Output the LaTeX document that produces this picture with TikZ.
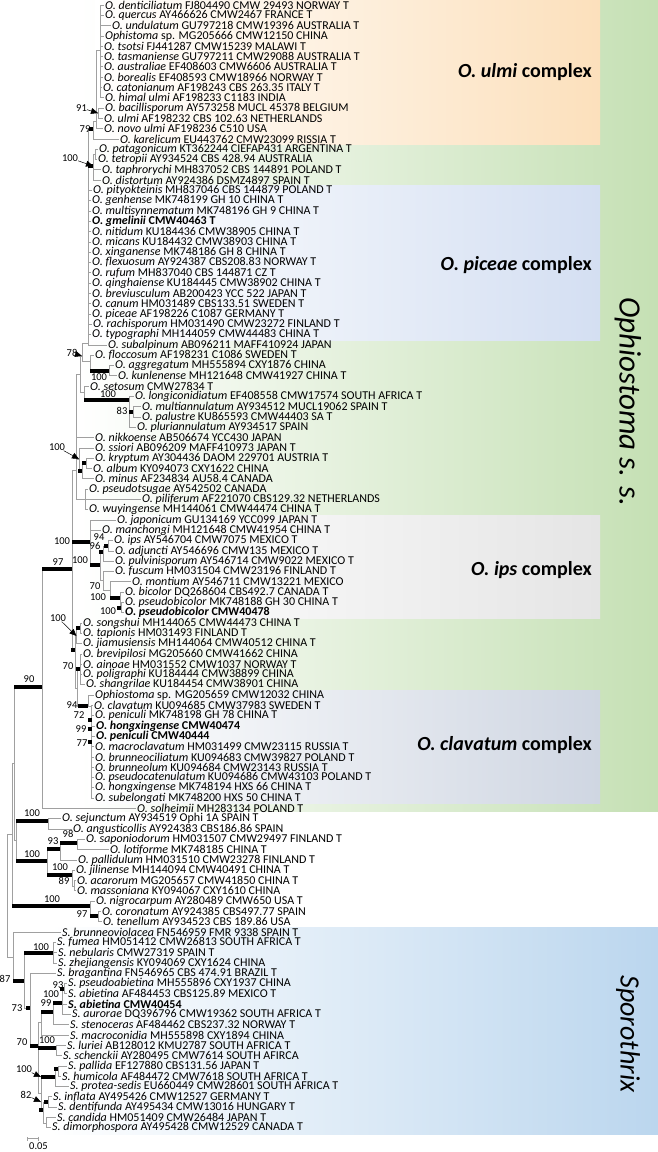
\documentclass[tikz,border=0pt]{standalone}
\usepackage{fontspec}
\setmainfont{Carlito}
\usetikzlibrary{arrows.meta}
\definecolor{ulmiC}{RGB}{252,224,188}
\definecolor{greenC}{RGB}{197,224,180}
\definecolor{piceaeC}{RGB}{212,223,242}
\definecolor{ipsC}{RGB}{229,229,229}
\definecolor{clavC}{RGB}{207,214,226}
\definecolor{sporoC}{RGB}{187,214,238}
\definecolor{branchC}{RGB}{160,160,160}

\begin{document}
\begin{tikzpicture}[x=1pt, y=-1pt,
        leaf/.style={anchor=west, inner xsep=1.5pt, inner ysep=0pt, font=\fontsize{12}{12}\selectfont},
        boot/.style={inner sep=0pt, font=\fontsize{10.5}{10.5}\selectfont},
        branch/.style={draw=branchC, line width=0.8pt},
        bar/.style={line width=3.2pt},
        sq/.style={fill=black, inner sep=0pt, minimum size=4pt, anchor=east},
        pointer/.style={-{Triangle[length=7pt,width=6pt]}, line width=0.5pt},
        complex/.style={anchor=east, inner sep=0pt, font=\fontsize{20}{20}\selectfont\bfseries},
        group/.style={rotate=-90, inner sep=0pt, font=\fontsize{31}{31}\selectfont\itshape}
      ]
        \useasboundingbox (0,0) rectangle (658,1152);

        \shade[left color=white, right color=greenC] (80,0) rectangle (658,811);
        \shade[left color=white, right color=ulmiC] (95,0) rectangle (600,144);
        \shade[left color=white, right color=piceaeC] (86,185) rectangle (600,340);
        \shade[left color=white, right color=ipsC] (110,515) rectangle (600,618);
        \shade[left color=white, right color=clavC] (88,690) rectangle (600,803);
        \shade[left color=white, right color=sporoC] (50,927) rectangle (658,1134);

        \node[complex] (cUlmi) at (592,72) {\textit{O. ulmi} complex};
        \node[complex] (cPiceae) at (592,265) {\textit{O. piceae} complex};
        \node[complex] (cIps) at (592,570) {\textit{O. ips} complex};
        \node[complex] (cClav) at (592,745) {\textit{O. clavatum} complex};
        \node[group] (gOphio) at (628,402) {Ophiostoma s. s.};
        \node[group, font=\fontsize{28}{28}\selectfont\itshape] (gSporo) at (628,1034) {Sporothrix};

        \node[leaf] (L1) at (103.5,5.0) {\textit{O. denticiliatum} FJ804490 CMW 29493 NORWAY T};
        \node[leaf] (L2) at (103.5,15.3) {\textit{O. quercus} AY466626 CMW2467 FRANCE T};
        \node[leaf] (L3) at (110.5,25.6) {\textit{O. undulatum} GU797218 CMW19396 AUSTRALIA T};
        \node[leaf] (L4) at (103.5,35.9) {\textit{Ophistoma} sp. MG205666 CMW12150 CHINA};
        \node[leaf] (L5) at (102.5,46.2) {\textit{O. tsotsi} FJ441287 CMW15239 MALAWI T};
        \node[leaf] (L6) at (102.5,56.5) {\textit{O. tasmaniense} GU797211 CMW29088 AUSTRALIA T};
        \node[leaf] (L7) at (102.5,66.8) {\textit{O. australiae} EF408603 CMW6606 AUSTRALIA T};
        \node[leaf] (L8) at (102.5,77.1) {\textit{O. borealis} EF408593 CMW18966 NORWAY T};
        \node[leaf] (L9) at (101.5,87.4) {\textit{O. catonianum} AF198243 CBS 263.35 ITALY T};
        \node[leaf] (L10) at (103.5,97.7) {\textit{O. himal ulmi} AF198233 C1183 INDIA};
        \node[leaf] (L11) at (103.5,108.0) {\textit{O. bacillisporum} AY573258 MUCL 45378 BELGIUM};
        \node[leaf] (L12) at (102.5,118.3) {\textit{O. ulmi} AF198232 CBS 102.63 NETHERLANDS};
        \node[leaf] (L13) at (102.5,128.6) {\textit{O. novo ulmi} AF198236 C510 USA};
        \node[leaf] (L14) at (118.5,138.9) {\textit{O. karelicum} EU443762 CMW23099 RISSIA T};
        \node[leaf] (L15) at (97.5,149.2) {\textit{O. patagonicum} KT362244 CIEFAP431 ARGENTINA T};
        \node[leaf] (L16) at (96.5,159.5) {\textit{O. tetropii} AY934524 CBS 428.94 AUSTRALIA};
        \node[leaf] (L17) at (100.5,169.8) {\textit{O. taphrorychi} MH837052 CBS 144891 POLAND T};
        \node[leaf] (L18) at (100.5,180.1) {\textit{O. distortum} AY924386 DSMZ4897 SPAIN T};
        \node[leaf] (L19) at (91.5,190.4) {\textit{O. pityokteinis} MH837046 CBS 144879 POLAND T};
        \node[leaf] (L20) at (90.5,200.7) {\textit{O. genhense} MK748199 GH 10 CHINA T};
        \node[leaf] (L21) at (90.5,211.0) {\textit{O. multisynnematum} MK748196 GH 9 CHINA T};
        \node[leaf] (L22) at (90.5,221.3) {\textbf{\textit{O. gmelinii} CMW40463 T}};
        \node[leaf] (L23) at (90.5,231.6) {\textit{O. nitidum} KU184436 CMW38905 CHINA T};
        \node[leaf] (L24) at (90.5,241.9) {\textit{O. micans} KU184432 CMW38903 CHINA T};
        \node[leaf] (L25) at (90.5,252.2) {\textit{O. xinganense} MK748186 GH 8 CHINA T};
        \node[leaf] (L26) at (90.5,262.5) {\textit{O. flexuosum} AY924387 CBS208.83 NORWAY T};
        \node[leaf] (L27) at (90.5,272.8) {\textit{O. rufum} MH837040 CBS 144871 CZ T};
        \node[leaf] (L28) at (90.5,283.1) {\textit{O. qinghaiense} KU184445 CMW38902 CHINA T};
        \node[leaf] (L29) at (90.5,293.4) {\textit{O. breviusculum} AB200423 YCC 522 JAPAN T};
        \node[leaf] (L30) at (90.5,303.7) {\textit{O. canum} HM031489 CBS133.51 SWEDEN T};
        \node[leaf] (L31) at (90.5,314.0) {\textit{O. piceae} AF198226 C1087 GERMANY T};
        \node[leaf] (L32) at (91.5,324.3) {\textit{O. rachisporum} HM031490 CMW23272 FINLAND T};
        \node[leaf] (L33) at (90.5,334.6) {\textit{O. typographi} MH144059 CMW44483 CHINA T};
        \node[leaf] (L34) at (106.5,344.9) {\textit{O. subalpinum} AB096211 MAFF410924 JAPAN};
        \node[leaf] (L35) at (93.5,355.2) {\textit{O. floccosum} AF198231 C1086 SWEDEN T};
        \node[leaf] (L36) at (113.5,365.5) {\textit{O. aggregatum} MH555894 CXY1876 CHINA};
        \node[leaf] (L37) at (116.5,375.8) {\textit{O. kunlenense} MH121648 CMW41927 CHINA T};
        \node[leaf] (L38) at (88.5,386.1) {\textit{O. setosum} CMW27834 T};
        \node[leaf] (L39) at (133.5,396.4) {\textit{O. longiconidiatum} EF408558 CMW17574 SOUTH AFRICA T};
        \node[leaf] (L40) at (140.5,406.7) {\textit{O. multiannulatum} AY934512 MUCL19062 SPAIN T};
        \node[leaf] (L41) at (140.5,417.0) {\textit{O. palustre} KU865593 CMW44403 SA T};
        \node[leaf] (L42) at (135.5,427.3) {\textit{O. pluriannulatum} AY934517 SPAIN};
        \node[leaf] (L43) at (93.5,437.6) {\textit{O. nikkoense} AB506674 YCC430 JAPAN};
        \node[leaf] (L44) at (93.5,447.9) {\textit{O. ssiori} AB096209 MAFF410973 JAPAN T};
        \node[leaf] (L45) at (93.5,458.2) {\textit{O. kryptum} AY304436 DAOM 229701 AUSTRIA T};
        \node[leaf] (L46) at (91.5,468.5) {\textit{O. album} KY094073 CXY1622 CHINA};
        \node[leaf] (L47) at (93.5,478.8) {\textit{O. minus} AF234834 AU58.4 CANADA};
        \node[leaf] (L48) at (87.5,489.1) {\textit{O. pseudotsugae} AY542502 CANADA};
        \node[leaf] (L49) at (140.5,499.4) {\textit{O. piliferum} AF221070 CBS129.32 NETHERLANDS};
        \node[leaf] (L50) at (87.5,509.7) {\textit{O. wuyingense} MH144061 CMW44474 CHINA T};
        \node[leaf] (L51) at (115.5,520.0) {\textit{O. japonicum} GU134169 YCC099 JAPAN T};
        \node[leaf] (L52) at (100.5,530.3) {\textit{O. manchongi} MH121648 CMW41954 CHINA T};
        \node[leaf] (L53) at (112.5,540.6) {\textit{O. ips} AY546704 CMW7075 MEXICO T};
        \node[leaf] (L54) at (113.5,550.9) {\textit{O. adjuncti} AY546696 CMW135 MEXICO T};
        \node[leaf] (L55) at (113.5,561.2) {\textit{O. pulvinisporum} AY546714 CMW9022 MEXICO T};
        \node[leaf] (L56) at (113.5,571.5) {\textit{O. fuscum} HM031504 CMW23196 FINLAND T};
        \node[leaf] (L57) at (130.5,581.8) {\textit{O. montium} AY546711 CMW13221 MEXICO};
        \node[leaf] (L58) at (123.5,592.1) {\textit{O. bicolor} DQ268604 CBS492.7 CANADA T};
        \node[leaf] (L59) at (123.5,602.4) {\textit{O. pseudobicolor} MK748188 GH 30 CHINA T};
        \node[leaf] (L60) at (123.5,612.7) {\textbf{\textit{O. pseudobicolor} CMW40478}};
        \node[leaf] (L61) at (81.5,623.0) {\textit{O. songshui} MH144065 CMW44473 CHINA T};
        \node[leaf] (L62) at (81.5,633.3) {\textit{O. tapionis} HM031493 FINLAND T};
        \node[leaf] (L63) at (81.5,643.6) {\textit{O. jiamusiensis} MH144064 CMW40512 CHINA T};
        \node[leaf] (L64) at (81.5,653.9) {\textit{O. brevipilosi} MG205660 CMW41662 CHINA};
        \node[leaf] (L65) at (81.5,664.2) {\textit{O. ainoae} HM031552 CMW1037 NORWAY T};
        \node[leaf] (L66) at (81.5,674.5) {\textit{O. poligraphi} KU184444 CMW38899 CHINA};
        \node[leaf] (L67) at (84.5,684.8) {\textit{O. shangrilae} KU184454 CMW38901 CHINA};
        \node[leaf] (L68) at (93.5,695.1) {\textit{Ophiostoma} sp. MG205659 CMW12032 CHINA};
        \node[leaf] (L69) at (92.5,705.4) {\textit{O. clavatum} KU094685 CMW37983 SWEDEN T};
        \node[leaf] (L70) at (93.5,715.7) {\textit{O. peniculi} MK748198 GH 78 CHINA T};
        \node[leaf] (L71) at (94.5,726.0) {\textbf{\textit{O. hongxingense} CMW40474}};
        \node[leaf] (L72) at (94.5,736.3) {\textbf{\textit{O. peniculi} CMW40444}};
        \node[leaf] (L73) at (93.5,746.6) {\textit{O. macroclavatum} HM031499 CMW23115 RUSSIA T};
        \node[leaf] (L74) at (93.5,756.9) {\textit{O. brunneociliatum} KU094683 CMW39827 POLAND T};
        \node[leaf] (L75) at (93.5,767.2) {\textit{O. brunneolum} KU094684 CMW23143 RUSSIA T};
        \node[leaf] (L76) at (93.5,777.5) {\textit{O. pseudocatenulatum} KU094686 CMW43103 POLAND T};
        \node[leaf] (L77) at (93.5,787.8) {\textit{O. hongxingense} MK748194 HXS 66 CHINA T};
        \node[leaf] (L78) at (93.5,798.1) {\textit{O. subelongati} MK748200 HXS 50 CHINA T};
        \node[leaf] (L79) at (135.5,808.4) {\textit{O. solheimii} MH283134 POLAND T};
        \node[leaf] (L80) at (60.5,818.7) {\textit{O. sejunctum} AY934519 Ophi 1A SPAIN T};
        \node[leaf] (L81) at (71.5,829.0) {\textit{O. angusticollis} AY924383 CBS186.86 SPAIN};
        \node[leaf] (L82) at (84.5,839.3) {\textit{O. saponiodorum} HM031507 CMW29497 FINLAND T};
        \node[leaf] (L83) at (108.5,849.6) {\textit{O. lotiforme} MK748185 CHINA T};
        \node[leaf] (L84) at (76.5,859.9) {\textit{O. pallidulum} HM031510 CMW23278 FINLAND T};
        \node[leaf] (L85) at (74.5,870.2) {\textit{O. jilinense} MH144094 CMW40491 CHINA T};
        \node[leaf] (L86) at (75.5,880.5) {\textit{O. acarorum} MG205657 CMW41850 CHINA T};
        \node[leaf] (L87) at (75.5,890.8) {\textit{O. massoniana} KY094067 CXY1610 CHINA};
        \node[leaf] (L88) at (94.5,901.1) {\textit{O. nigrocarpum} AY280489 CMW650 USA T};
        \node[leaf] (L89) at (100.5,911.4) {\textit{O. coronatum} AY924385 CBS497.77 SPAIN};
        \node[leaf] (L90) at (101.5,921.7) {\textit{O. tenellum} AY934523 CBS 189.86 USA};
        \node[leaf] (L91) at (60.5,932.0) {\textit{S. brunneoviolacea} FN546959 FMR 9338 SPAIN T};
        \node[leaf] (L92) at (55.5,942.3) {\textit{S. fumea} HM051412 CMW26813 SOUTH AFRICA T};
        \node[leaf] (L93) at (56.5,952.6) {\textit{S. nebularis} CMW27319 SPAIN T};
        \node[leaf] (L94) at (56.5,962.9) {\textit{S. zhejiangensis} KY094069 CXY1624 CHINA};
        \node[leaf] (L95) at (55.5,973.2) {\textit{S. bragantina} FN546965 CBS 474.91 BRAZIL T};
        \node[leaf] (L96) at (66.5,983.5) {\textit{S. pseudoabietina} MH555896 CXY1937 CHINA};
        \node[leaf] (L97) at (66.5,993.8) {\textit{S. abietina} AF484453 CBS125.89 MEXICO T};
        \node[leaf] (L98) at (66.5,1004.1) {\textbf{\textit{S. abietina} CMW40454}};
        \node[leaf] (L99) at (70.5,1014.4) {\textit{S. aurorae} DQ396796 CMW19362 SOUTH AFRICA T};
        \node[leaf] (L100) at (68.5,1024.7) {\textit{S. stenoceras} AF484462 CBS237.32 NORWAY T};
        \node[leaf] (L101) at (68.5,1035.0) {\textit{S. macroconidia} MH555898 CXY1894 CHINA};
        \node[leaf] (L102) at (65.5,1045.3) {\textit{S. luriei} AB128012 KMU2787 SOUTH AFRICA T};
        \node[leaf] (L103) at (61.5,1055.6) {\textit{S. schenckii} AY280495 CMW7614 SOUTH AFIRCA};
        \node[leaf] (L104) at (66.5,1065.9) {\textit{S. pallida} EF127880 CBS131.56 JAPAN T};
        \node[leaf] (L105) at (60.5,1076.2) {\textit{S. humicola} AF484472 CMW7618 SOUTH AFRICA T};
        \node[leaf] (L106) at (68.5,1086.5) {\textit{S. protea-sedis} EU660449 CMW28601 SOUTH AFRICA T};
        \node[leaf] (L107) at (51.5,1096.8) {\textit{S. inflata} AY495426 CMW12527 GERMANY T};
        \node[leaf] (L108) at (56.5,1107.1) {\textit{S. dentifunda} AY495434 CMW13016 HUNGARY T};
        \node[leaf] (L109) at (55.5,1117.4) {\textit{S. candida} HM051409 CMW26484 JAPAN T};
        \node[leaf] (L110) at (50.5,1127.7) {\textit{S. dimorphospora} AY495428 CMW12529 CANADA T};

        \coordinate (root) at (7,895);
        \coordinate (oa) at (12,834);
        \coordinate (ob) at (14,763);
        \coordinate (n90) at (42,687);
        \coordinate (n97) at (72,569);
        \coordinate (nup) at (76,470);
        \coordinate (nu2) at (80,374);
        \coordinate (n78) at (82,356);
        \coordinate (T) at (88,343);
        \coordinate (n79) at (93,129);
        \coordinate (ua) at (96,121);
        \coordinate (u0) at (100,50);
        \coordinate (n91) at (98,113);
        \coordinate (nt) at (93,166);
        \coordinate (pt) at (95.5,154);
        \coordinate (nf) at (90,361);
        \coordinate (n100agg) at (109,371);
        \coordinate (n83b) at (84,392);
        \coordinate (n100lon) at (129,400);
        \coordinate (n83) at (133,412);
        \coordinate (n100ss) at (79,459);
        \coordinate (nm) at (82,471);
        \coordinate (nk) at (86,463);
        \coordinate (npp) at (85,499);
        \coordinate (n100ips) at (90,542);
        \coordinate (n100pul) at (100,565);
        \coordinate (n96) at (103,552);
        \coordinate (n94) at (108,546);
        \coordinate (nfm) at (103,580);
        \coordinate (n70m) at (110,590);
        \coordinate (n100bic) at (120,598);
        \coordinate (npb) at (121.5,607.5);
        \coordinate (nsq) at (75.5,650);
        \coordinate (ns1) at (76.5,636);
        \coordinate (nsj) at (80,628);
        \coordinate (nlow) at (77.5,688);
        \coordinate (n70b) at (80,669);
        \coordinate (n94c) at (88,706);
        \coordinate (ncl) at (91,706);
        \coordinate (c72) at (92,720);
        \coordinate (c99) at (92.5,729);
        \coordinate (c77) at (92,742);
        \coordinate (oc) at (16,840);
        \coordinate (n100sej) at (48,821);
        \coordinate (n100pal) at (47,861);
        \coordinate (n93) at (60,849);
        \coordinate (n98) at (77,843);
        \coordinate (n100jil) at (72,875);
        \coordinate (n89) at (74,886);
        \coordinate (n100n) at (90,906);
        \coordinate (n97c) at (98,916);
        \coordinate (sa) at (13,957);
        \coordinate (n87) at (24,981);
        \coordinate (n100neb) at (53,953);
        \coordinate (n73) at (30,1008);
        \coordinate (n70) at (38,1046);
        \coordinate (ny) at (41,1022);
        \coordinate (n99) at (53,1012);
        \coordinate (n100ab) at (62,1003);
        \coordinate (n93s) at (64,989);
        \coordinate (n100lur) at (56,1048);
        \coordinate (nz) at (41,1093);
        \coordinate (nw) at (55,1077);
        \coordinate (nwp) at (58,1069);
        \coordinate (n82b) at (43,1110);
        \coordinate (n82) at (48,1102);
        \coordinate (ncd) at (46,1123);

        \draw[branch] (root) |- (oa) (root) |- (sa);
        \draw[branch] (oa) |- (ob) (oa) |- (n100n);
        \draw[branch] (ob) |- (n90) (ob) |- (oc);
        \draw[branch] (n90) |- (n97) (n90) |- (L79);
        \draw[branch] (n97) |- (nup) (n97) |- (n100ips) (n97) |- (nsq);
        \draw[branch] (nup) |- (nu2) (nup) |- (L43) (nup) |- (n100ss) (nup) |- (npp);
        \draw[branch] (nu2) |- (n78) (nu2) |- (n83b);
        \draw[branch] (n78) |- (T) (n78) |- (nf);
        \draw[branch] (T) |- (n79) (T) |- (nt) (T) |- (L19) (T) |- (L20) (T) |- (L21) (T) |- (L22)
          (T) |- (L23) (T) |- (L24) (T) |- (L25) (T) |- (L26) (T) |- (L27) (T) |- (L28)
          (T) |- (L29) (T) |- (L30) (T) |- (L31) (T) |- (L32) (T) |- (L33) (T) |- (L34);
        \draw[branch] (n79) |- (ua) (n79) |- (L14);
        \draw[branch] (ua) |- (u0) (ua) |- (n91) (ua) |- (L13);
        \draw[branch] (u0) |- (L1) (u0) |- (L2) (u0) |- (L3) (u0) |- (L4) (u0) |- (L5)
          (u0) |- (L6) (u0) |- (L7) (u0) |- (L8) (u0) |- (L9) (u0) |- (L10);
        \draw[branch] (n91) |- (L11) (n91) |- (L12);
        \draw[branch] (nt) |- (pt) (nt) |- (L17) (nt) |- (L18);
        \draw[branch] (pt) |- (L15) (pt) |- (L16);
        \draw[branch] (nf) |- (L35) (nf) |- (n100agg);
        \draw[branch] (n100agg) |- (L36) (n100agg) |- (L37);
        \draw[branch] (n83b) |- (L38) (n83b) |- (n100lon);
        \draw[branch] (n100lon) |- (L39) (n100lon) |- (n83) (n100lon) |- (L42);
        \draw[branch] (n83) |- (L40) (n83) |- (L41);
        \draw[branch] (n100ss) |- (L44) (n100ss) |- (nm);
        \draw[branch] (nm) |- (nk) (nm) |- (L47);
        \draw[branch] (nk) |- (L45) (nk) |- (L46);
        \draw[branch] (npp) |- (L48) (npp) |- (L49) (npp) |- (L50);
        \draw[branch] (n100ips) |- (L51) (n100ips) |- (L52) (n100ips) |- (n100pul);
        \draw[branch] (n100pul) |- (n96) (n100pul) |- (nfm);
        \draw[branch] (n96) |- (n94) (n96) |- (L55);
        \draw[branch] (n94) |- (L53) (n94) |- (L54);
        \draw[branch] (nfm) |- (L56) (nfm) |- (n70m);
        \draw[branch] (n70m) |- (L57) (n70m) |- (n100bic);
        \draw[branch] (n100bic) |- (L58) (n100bic) |- (npb);
        \draw[branch] (npb) |- (L59) (npb) |- (L60);
        \draw[branch] (nsq) |- (ns1) (nsq) |- (nlow);
        \draw[branch] (ns1) |- (nsj) (ns1) |- (L63);
        \draw[branch] (nsj) |- (L61) (nsj) |- (L62);
        \draw[branch] (nlow) |- (n70b) (nlow) |- (n94c);
        \draw[branch] (n70b) |- (L64) (n70b) |- (L65) (n70b) |- (L66) (n70b) |- (L67);
        \draw[branch] (n94c) |- (L68) (n94c) |- (ncl);
        \draw[branch] (ncl) |- (L69) (ncl) |- (L70) (ncl) |- (L71) (ncl) |- (L72) (ncl) |- (L73)
          (ncl) |- (L74) (ncl) |- (L75) (ncl) |- (L76) (ncl) |- (L77) (ncl) |- (L78);
        \draw[branch] (oc) |- (n100sej) (oc) |- (n100pal);
        \draw[branch] (n100sej) |- (L80) (n100sej) |- (L81);
        \draw[branch] (n100pal) |- (n93) (n100pal) |- (n100jil);
        \draw[branch] (n93) |- (n98) (n93) |- (L84);
        \draw[branch] (n98) |- (L82) (n98) |- (L83);
        \draw[branch] (n100jil) |- (L85) (n100jil) |- (n89);
        \draw[branch] (n89) |- (L86) (n89) |- (L87);
        \draw[branch] (n100n) |- (L88) (n100n) |- (n97c);
        \draw[branch] (n97c) |- (L89) (n97c) |- (L90);
        \draw[branch] (sa) |- (L91) (sa) |- (n87);
        \draw[branch] (n87) |- (n100neb) (n87) |- (n73);
        \draw[branch] (n100neb) |- (L92) (n100neb) |- (L93) (n100neb) |- (L94);
        \draw[branch] (n73) |- (L95) (n73) |- (n70);
        \draw[branch] (n70) |- (ny) (n70) |- (n100lur) (n70) |- (nz);
        \draw[branch] (ny) |- (n99) (ny) |- (L101);
        \draw[branch] (n99) |- (n100ab) (n99) |- (L100);
        \draw[branch] (n100ab) |- (n93s) (n100ab) |- (L98) (n100ab) |- (L99);
        \draw[branch] (n93s) |- (L96) (n93s) |- (L97);
        \draw[branch] (n100lur) |- (L102) (n100lur) |- (L103);
        \draw[branch] (nz) |- (nw) (nz) |- (n82b);
        \draw[branch] (nw) |- (nwp) (nw) |- (L106);
        \draw[branch] (nwp) |- (L104) (nwp) |- (L105);
        \draw[branch] (n82b) |- (n82) (n82b) |- (ncd);
        \draw[branch] (n82) |- (L107) (n82) |- (L108);
        \draw[branch] (ncd) |- (L109) (ncd) |- (L110);

        \draw[bar] (ob |- n90) -- (n90);
        \draw[bar] (n90 |- n97) -- (n97);
        \draw[bar] (n97 |- n100ips) -- (n100ips);
        \draw[bar] (n100ips |- n100pul) -- (n100pul);
        \draw[bar] (n70m |- n100bic) -- (n100bic);
        \draw[bar] (nlow |- n94c) -- (n94c);
        \draw[bar] (T |- nt) -- (nt);
        \draw[bar] (nf |- n100agg) -- (n100agg);
        \draw[bar] (n83b |- n100lon) -- (n100lon);
        \draw[bar] (oc |- n100sej) -- (n100sej);
        \draw[bar] (oc |- n100pal) -- (n100pal);
        \draw[bar] (n100pal |- n93) -- (n93);
        \draw[bar] (n93 |- n98) -- (n98);
        \draw[bar] (n100pal |- n100jil) -- (n100jil);
        \draw[bar] (oa |- n100n) -- (n100n);
        \draw[bar] (n100n |- n97c) -- (n97c);
        \draw[bar] (sa |- n87) -- (n87);
        \draw[bar] (n87 |- n100neb) -- (n100neb);
        \draw[bar] (n73 |- n70) -- (n70);
        \draw[bar] (n70 |- n100lur) -- (n100lur);
        \draw[bar] (ny |- n99) -- (n99);
        \draw[bar] (n99 |- n100ab) -- (n100ab);
        \draw[bar] (nz |- nw) -- (nw);

        \node[sq] (q79) at (n79) {};
        \node[sq] (q83) at (n83) {};
        \node[sq] (qk) at (nk) {};
        \node[sq] (qm) at (nm) {};
        \node[sq] (q94) at (n94) {};
        \node[sq] (q96) at (n96) {};
        \node[sq] (qpb) at (npb) {};
        \node[sq] (qsj) at (nsj) {};
        \node[sq] (qsq) at (nsq) {};
        \node[sq] (q70b) at (n70b) {};
        \node[sq] (q72) at (c72) {};
        \node[sq] (q99) at (c99) {};
        \node[sq] (q77) at (c77) {};
        \node[sq] (q73) at (n73) {};
        \node[sq] (q93s) at (n93s) {};
        \node[sq] (qwp) at (nwp) {};
        \node[sq] (q82) at (n82) {};
        \node[sq] (q82b) at (n82b) {};

        \node[boot] (b91) at (81.5,108) {91};
        \node[boot] (b79) at (85,129) {79};
        \node[boot] (b100t) at (70,158) {100};
        \node[boot] (b78) at (72,353) {78};
        \node[boot] (b100agg) at (99,377) {100};
        \node[boot] (b100lon) at (108,394.5) {100};
        \node[boot] (b83) at (122,411) {83};
        \node[boot] (b100ss) at (57,447) {100};
        \node[boot] (b100ips) at (62,541) {100};
        \node[boot] (b94) at (99,537) {94};
        \node[boot] (b96) at (95,546) {96};
        \node[boot] (b100pul) at (80,560) {100};
        \node[boot] (b97) at (58,562) {97};
        \node[boot] (b70m) at (95,586) {70};
        \node[boot] (b100bic) at (98,597) {100};
        \node[boot] (b100pb) at (108,611) {100};
        \node[boot] (b100s) at (58,618) {100};
        \node[boot] (b70b) at (68,666) {70};
        \node[boot] (b90) at (29,679) {90};
        \node[boot] (b94c) at (72,705) {94};
        \node[boot] (b72) at (79,715) {72};
        \node[boot] (b99) at (81,729) {99};
        \node[boot] (b77) at (82,743) {77};
        \node[boot] (b100sej) at (32,813) {100};
        \node[boot] (b98) at (68,834) {98};
        \node[boot] (b93) at (53,841) {93};
        \node[boot] (b100pal) at (32,854) {100};
        \node[boot] (b100jil) at (60,867) {100};
        \node[boot] (b89) at (64,881) {89};
        \node[boot] (b100n) at (52,899) {100};
        \node[boot] (b97c) at (82,914) {97};
        \node[boot] (b100neb) at (41,947) {100};
        \node[boot] (b87) at (5,979) {87};
        \node[boot] (b93s) at (58,985) {93};
        \node[boot] (b100ab) at (51,994) {100};
        \node[boot] (b99s) at (46,1003) {99};
        \node[boot] (b73) at (17,1008) {73};
        \node[boot] (b100lur) at (47,1040) {100};
        \node[boot] (b70) at (22,1042) {70};
        \node[boot] (b100w) at (24,1069) {100};
        \node[boot] (b82) at (26,1095) {82};

        \draw[pointer] (b91) -- (n91);
        \draw[pointer] (b100t) -- (nt);
        \draw[pointer] (b78) -- (n78);
        \draw[pointer] (b100ss) -- (n100ss);
        \draw[pointer] (b100s) -- (ns1);
        \draw[pointer] (b100w) -- (nz |- nw);
        \draw[pointer] (b82) -- (nz |- n82);

        \coordinate (sb1) at (27,1138.5);
        \coordinate (sb2) at (39,1138.5);
        \draw[branch, {Bar[width=4pt]}-{Bar[width=4pt]}] (sb1) -- (sb2);
        \node[boot] (scl) at (38.5,1146) {0.05};
      \end{tikzpicture}
\end{document}
